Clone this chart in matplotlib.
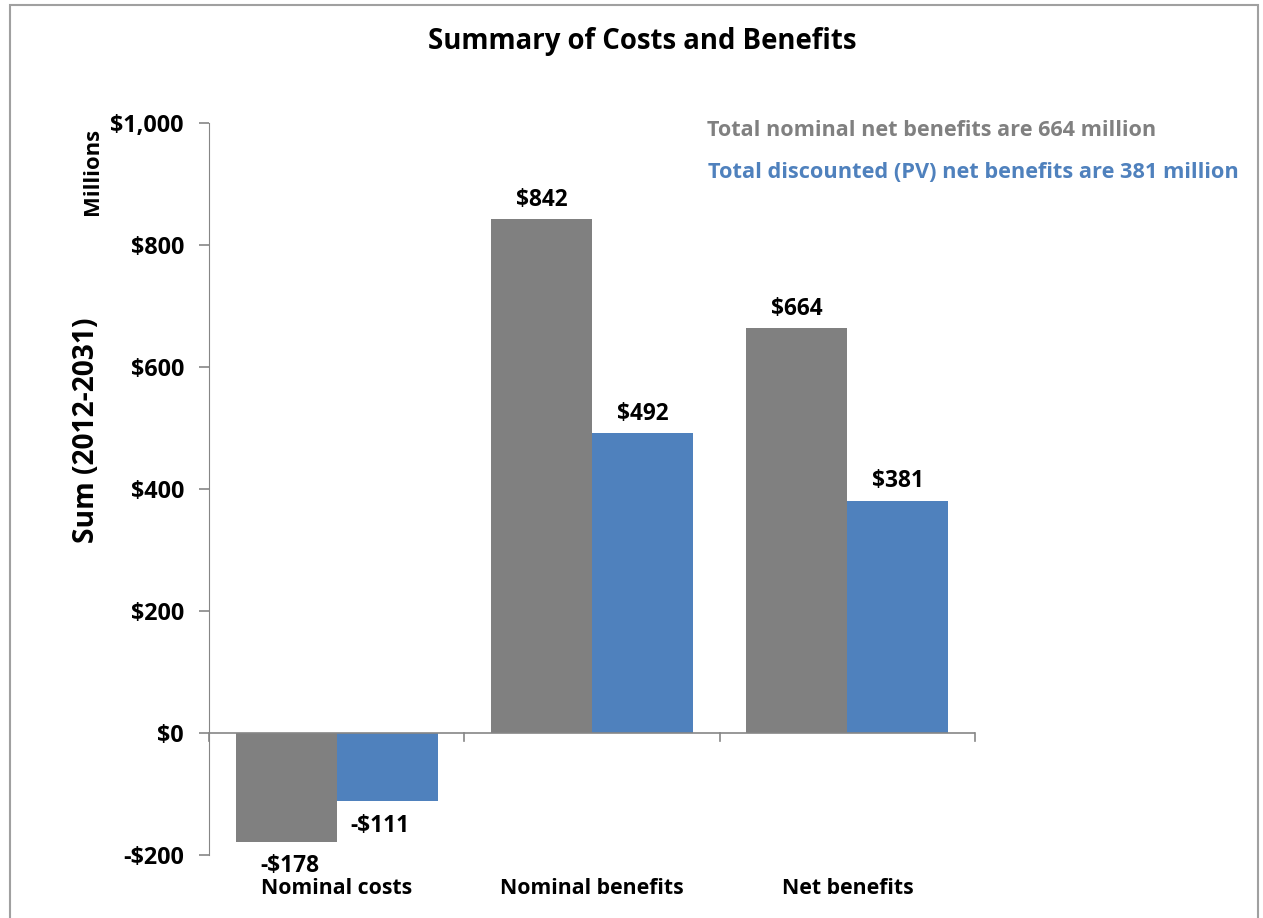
import matplotlib
matplotlib.use("Agg")
import matplotlib.pyplot as plt
from matplotlib.patches import Rectangle
import numpy as np

categories = ["Nominal costs", "Nominal benefits", "Net benefits"]
nominal = [-178, 842, 664]
discounted = [-111, 492, 381]
nominal_labels = ["-$178", "$842", "$664"]
discounted_labels = ["-$111", "$492", "$381"]
yticks = [-200, 0, 200, 400, 600, 800, 1000]
ytick_labels = ["-$200", "$0", "$200", "$400", "$600", "$800", "$1,000"]

GRAY = "#808080"
BLUE = "#4F81BD"
FONT = "Open Sans"

plt.rcParams['font.family'] = [FONT, 'DejaVu Sans']
plt.rcParams['font.weight'] = 'bold'

W, H = 1263, 918
fig = plt.figure(figsize=(W / 100, H / 100), dpi=100)
renderer = fig.canvas.get_renderer()


def fit(t, target_px, vertical=False):
    """scale font size so the text spans target_px"""
    for _ in range(3):
        bb = t.get_window_extent(renderer=renderer)
        cur = bb.height if vertical else bb.width
        t.set_fontsize(t.get_fontsize() * target_px / cur)
    return t.get_fontsize()


def probe_size(s, target_px):
    p = fig.text(0, 0, s, fontsize=14, fontweight='bold')
    size = fit(p, target_px)
    p.remove()
    return size


fig.patches.append(Rectangle((10 / W, -0.01), (1258 - 10) / W, 1 - 5 / H + 0.01,
                             transform=fig.transFigure, fill=False,
                             edgecolor="#A0A0A0", linewidth=1.5))

ax = fig.add_axes([209 / W, 1 - 855 / H, (975 - 209) / W, (855 - 123) / H])
x = np.arange(len(categories))
bw = 0.3956
ax.bar(x - bw / 2, nominal, bw, color=GRAY)
ax.bar(x + bw / 2, discounted, bw, color=BLUE)

ax.set_xlim(-0.5, 2.5)
ax.set_ylim(-200, 1000)
ax.set_yticks(yticks)
for s in ["top", "right", "bottom"]:
    ax.spines[s].set_visible(False)
ax.spines["left"].set_color("#868686")
ax.axhline(0, color="#868686", linewidth=1.2)
ax.tick_params(axis='y', length=7, color="#868686", width=1.2, pad=11)

fs = probe_size("$1,000", 74)
ax.set_yticklabels(ytick_labels, fontsize=fs, fontweight='bold')

for b in [-0.5, 0.5, 1.5, 2.5]:
    ax.plot([b, b], [0, -13], color="#868686", linewidth=1.2, clip_on=False)
ax.set_xticks([])

cfs = probe_size("Nominal costs", 151)
for xi, c in zip(x, categories):
    ax.text(xi, -200 - (888 - 855) / 0.61, c, ha='center', va='center', fontsize=cfs, fontweight='bold')

lfs = probe_size("-$178", 59)
for xi, v, lab in zip(x, nominal, nominal_labels):
    if v >= 0:
        ax.text(xi - bw / 2, v + 12, lab, ha='center', va='bottom', fontsize=lfs, fontweight='bold')
    else:
        ax.text(xi - bw / 2 + 0.015, v - 40, lab, ha='center', va='center', fontsize=lfs, fontweight='bold')
for xi, v, lab in zip(x, discounted, discounted_labels):
    if v >= 0:
        ax.text(xi + bw / 2, v + 12, lab, ha='center', va='bottom', fontsize=lfs, fontweight='bold')
    else:
        ax.text(xi + bw / 2 - 0.03, v - 42, lab, ha='center', va='center', fontsize=lfs, fontweight='bold')

t = fig.text(642 / W, 1 - 42 / H, "Summary of Costs and Benefits", ha='center', va='center',
             fontsize=19, fontweight='bold')
fit(t, 429)
t = fig.text(87 / W, 1 - 430 / H, "Sum (2012-2031)", ha='center', va='center', rotation=90,
             fontsize=19, fontweight='bold')
fit(t, 225, vertical=True)
t = fig.text(93 / W, 1 - 171 / H, "Millions", ha='center', va='center', rotation=90,
             fontsize=12, fontweight='bold')
fit(t, 87, vertical=True)
t = fig.text(707 / W, 1 - 131 / H, "Total nominal net benefits are 664 million", ha='left', va='center',
             fontsize=14, fontweight='bold', color=GRAY)
fit(t, 449)
t = fig.text(708 / W, 1 - 173 / H, "Total discounted (PV) net benefits are 381 million", ha='left', va='center',
             fontsize=14, fontweight='bold', color=BLUE)
fit(t, 530)

fig.savefig("out.png", dpi=100)
